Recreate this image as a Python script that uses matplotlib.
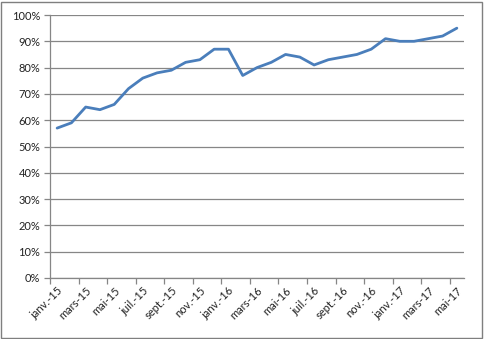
import matplotlib
matplotlib.use("Agg")
import matplotlib.pyplot as plt
from matplotlib.ticker import FixedLocator, PercentFormatter
import matplotlib.patches as patches

# Données mensuelles (janv.-15 -> mai-17)
mois = ["janv.-15", "févr.-15", "mars-15", "avr.-15", "mai-15", "juin-15",
        "juil.-15", "août-15", "sept.-15", "oct.-15", "nov.-15", "déc.-15",
        "janv.-16", "févr.-16", "mars-16", "avr.-16", "mai-16", "juin-16",
        "juil.-16", "août-16", "sept.-16", "oct.-16", "nov.-16", "déc.-16",
        "janv.-17", "févr.-17", "mars-17", "avr.-17", "mai-17"]
taux = [57, 59, 65, 64, 66, 72, 76, 78, 79, 82, 83, 87,
        87, 77, 80, 82, 85, 84, 81, 83, 84, 85, 87, 91,
        90, 90, 91, 92, 95]

dpi = 100
fig = plt.figure(figsize=(484 / dpi, 339 / dpi), dpi=dpi)
ax = fig.add_axes([50 / 484, 1 - 278 / 339, 414 / 484, 263 / 339])

grid_col = "#868686"
x = list(range(len(mois)))
ax.plot(x, taux, color="#4a7ebb", linewidth=2.0, solid_capstyle="round", zorder=3)

ax.set_xlim(-0.5, len(mois) - 0.5)
ax.set_ylim(0, 100)
ax.yaxis.set_major_locator(FixedLocator(range(0, 101, 10)))
ax.yaxis.set_major_formatter(PercentFormatter(decimals=0))
ax.grid(axis="y", color=grid_col, linewidth=0.9)
ax.set_axisbelow(True)

# étiquettes tous les deux mois
lab_pos = x[::2]
ax.set_xticks(lab_pos)
ax.set_xticklabels([mois[i] for i in lab_pos], rotation=45, ha="right",
                   rotation_mode="anchor", fontsize=8, family="Lato", color="#222222")
ax.set_xticks([p - 0.5 for p in range(0, len(mois) + 1, 2)], minor=True)
ax.tick_params(axis="x", which="major", length=0, pad=5)
ax.tick_params(axis="x", which="minor", length=4, color=grid_col, width=0.9)
ax.tick_params(axis="y", length=4, color=grid_col, width=0.9, labelsize=8,
               labelcolor="#222222", pad=3)
for lbl in ax.get_yticklabels():
    lbl.set_family("Lato")

for s in ["top", "right"]:
    ax.spines[s].set_visible(False)
ax.spines["left"].set_color(grid_col)
ax.spines["bottom"].set_color(grid_col)
ax.spines["left"].set_linewidth(0.9)
ax.spines["bottom"].set_linewidth(0.9)

# cadre du graphique
fig.patches.append(patches.Rectangle((1 / 484, 1 / 339), 481 / 484, 336 / 339,
                                     transform=fig.transFigure, fill=False,
                                     edgecolor="#7f7f7f", linewidth=1))

fig.savefig("out.png", dpi=dpi)
